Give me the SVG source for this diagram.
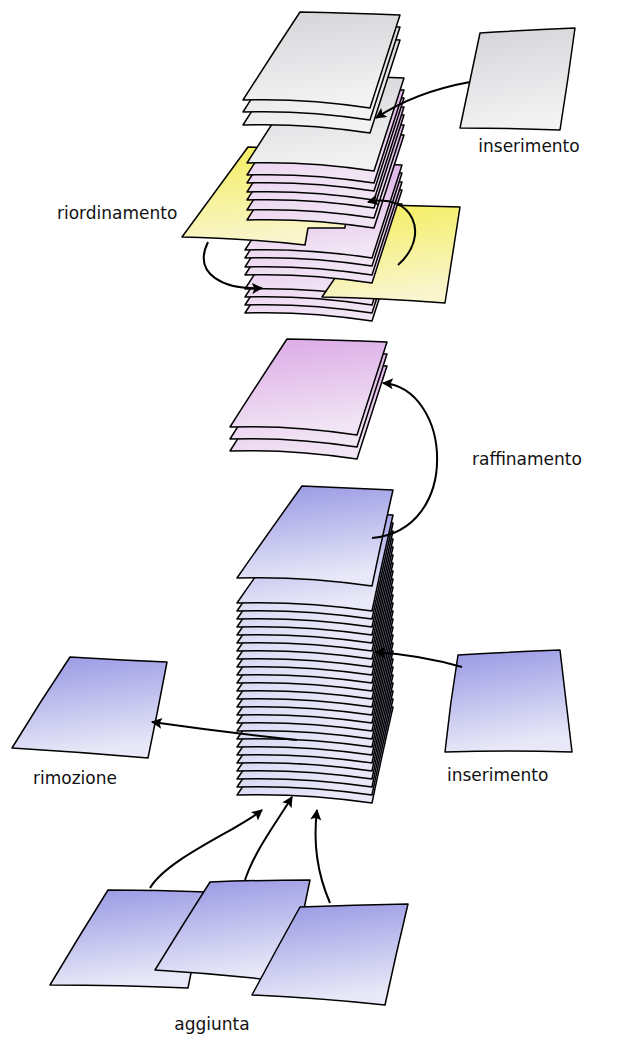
<svg xmlns="http://www.w3.org/2000/svg" xmlns:xlink="http://www.w3.org/1999/xlink" width="640" height="1050" viewBox="0 0 640 1050">
<style>
.s{stroke:#000;stroke-width:1.5;stroke-linejoin:round}
.g{fill:url(#gg)}.p{fill:url(#gp)}.b{fill:url(#gb)}.y{fill:url(#gy)}
.a{fill:none;stroke:#000;stroke-width:2;marker-end:url(#ah)}
text{font-family:"DejaVu Sans","Liberation Sans",sans-serif;font-size:17px;fill:#111}
</style>
<defs>
<linearGradient id="gg" x1="0" y1="0" x2="0.2" y2="1"><stop offset="0" stop-color="#d4d4d8"/><stop offset="1" stop-color="#f2f2f3"/></linearGradient>
<linearGradient id="gp" x1="0" y1="0" x2="0.2" y2="1"><stop offset="0" stop-color="#dba8e6"/><stop offset="1" stop-color="#f1e4f4"/></linearGradient>
<linearGradient id="gb" x1="0" y1="0" x2="0.2" y2="1"><stop offset="0" stop-color="#9696e4"/><stop offset="1" stop-color="#e8e8f8"/></linearGradient>
<linearGradient id="gy" x1="0" y1="0" x2="0.2" y2="1"><stop offset="0" stop-color="#f4ee5a"/><stop offset="1" stop-color="#f9f5cc"/></linearGradient>
<path id="t" d="M0,0 Q28,-44 57,-88 Q105,-87 157,-85 Q142,-38 127,8 Q62,-2 0,0Z"/>
<path id="u" d="M0,0 Q32,-46 65,-92 Q110,-90 156,-88 Q145,-40 135,8 Q66,-2 0,0Z"/>
<marker id="ah" viewBox="0 0 10 10" refX="9" refY="5" markerWidth="13" markerHeight="11" orient="auto" markerUnits="userSpaceOnUse"><path d="M0,0 L10,5 L0,10 L2,5Z"/></marker>
</defs>

<g id="stack-top">
<use href="#t" class="s p" x="245" y="313"/>
<use href="#t" class="s p" x="245" y="305"/>
<use href="#t" class="s p" x="245" y="297"/>
<use href="#t" class="s p" x="245" y="289"/>
<path class="s y" d="M322,297 L385,205 L460,207 L445,303 Q380,298 322,297Z"/>
<use href="#t" class="s p" x="245" y="275"/>
<use href="#t" class="s p" x="245" y="267"/>
<use href="#t" class="s p" x="245" y="258"/>
<use href="#t" class="s p" x="245" y="250"/>
<path class="s y" d="M182,237 L248,147 L350,150 L345,228 L308,228 L305,245 Q240,238 182,237Z"/>
<use href="#t" class="s p" x="247" y="220"/>
<use href="#t" class="s p" x="247" y="210"/>
<use href="#t" class="s p" x="247" y="200"/>
<use href="#t" class="s p" x="247" y="192"/>
<use href="#t" class="s p" x="247" y="183"/>
<use href="#t" class="s p" x="247" y="175"/>
<use href="#t" class="s g" x="247" y="163"/>
<use href="#t" class="s g" x="243" y="125"/>
<use href="#t" class="s g" x="243" y="112"/>
<use href="#t" class="s g" x="243" y="100"/>
</g>

<g id="stack-refined">
<use href="#t" class="s p" x="230" y="451"/>
<use href="#t" class="s p" x="230" y="439"/>
<use href="#t" class="s p" x="230" y="427"/>
</g>

<g id="stack-blue">
<use href="#u" class="s b" x="237" y="795"/>
<use href="#u" class="s b" x="237" y="787"/>
<use href="#u" class="s b" x="237" y="779"/>
<use href="#u" class="s b" x="237" y="771"/>
<use href="#u" class="s b" x="237" y="763"/>
<use href="#u" class="s b" x="237" y="755"/>
<use href="#u" class="s b" x="237" y="747"/>
<use href="#u" class="s b" x="237" y="739"/>
<use href="#u" class="s b" x="237" y="731"/>
<use href="#u" class="s b" x="237" y="723"/>
<use href="#u" class="s b" x="237" y="715"/>
<use href="#u" class="s b" x="237" y="707"/>
<use href="#u" class="s b" x="237" y="699"/>
<use href="#u" class="s b" x="237" y="691"/>
<use href="#u" class="s b" x="237" y="683"/>
<use href="#u" class="s b" x="237" y="675"/>
<use href="#u" class="s b" x="237" y="667"/>
<use href="#u" class="s b" x="237" y="659"/>
<use href="#u" class="s b" x="237" y="651"/>
<use href="#u" class="s b" x="237" y="643"/>
<use href="#u" class="s b" x="237" y="635"/>
<use href="#u" class="s b" x="237" y="627"/>
<use href="#u" class="s b" x="237" y="619"/>
<use href="#u" class="s b" x="237" y="611"/>
<use href="#u" class="s b" x="237" y="603"/>
<use href="#u" class="s b" x="237" y="578"/>
</g>

<g id="ins-top"><path class="s g" d="M460,128 Q470,80 480,33 Q528,30 575,28 Q568,80 560,130 Q510,128 460,128Z"/></g>
<g id="rimozione-sheet"><path class="s b" d="M12,748 Q40,702 70,657 Q118,660 167,662 Q158,710 148,758 Q80,752 12,748Z"/></g>
<g id="ins-blue"><path class="s b" d="M445,752 Q450,704 458,655 Q510,652 560,650 Q566,700 572,752 Q508,750 445,752Z"/></g>
<g id="agg1"><path class="s b" d="M50,985 Q78,938 108,890 Q158,890 207,892 Q198,940 188,988 Q120,985 50,985Z"/></g>
<g id="agg2"><path class="s b" d="M155,970 Q182,926 210,882 Q260,880 310,880 Q300,930 288,982 Q222,974 155,970Z"/></g>
<g id="agg3"><path class="s b" d="M252,995 Q276,950 300,907 Q354,905 408,904 Q396,954 385,1005 Q318,998 252,995Z"/></g>

<g id="connectors">
<path class="a" d="M470,82 Q415,92 376,118"/>
<path class="a" d="M208,242 C192,275 225,290 262,288"/>
<path class="a" d="M398,265 C432,235 412,192 368,202"/>
<path class="a" d="M372,538 C462,530 452,388 383,383"/>
<path class="a" d="M462,667 Q420,655 375,652"/>
<path class="a" d="M297,740 Q222,732 152,722"/>
<path class="a" d="M150,888 C168,858 238,830 262,810"/>
<path class="a" d="M245,880 C255,850 278,820 292,797"/>
<path class="a" d="M330,903 C320,880 312,850 317,810"/>
</g>

<g id="labels">
<text x="529" y="152" text-anchor="middle">inserimento</text>
<text x="57" y="219">riordinamento</text>
<text x="472" y="465">raffinamento</text>
<text x="33" y="784">rimozione</text>
<text x="447" y="781">inserimento</text>
<text x="212" y="1030" text-anchor="middle">aggiunta</text>
</g>
</svg>
